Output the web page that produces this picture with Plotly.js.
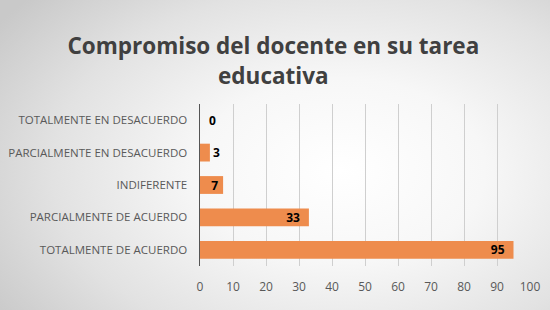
<!DOCTYPE html>
<html><head><meta charset="utf-8">
<script src="https://cdn.plot.ly/plotly-3.0.1.min.js"></script>
<style>
html,body{margin:0;padding:0;width:550px;height:310px;overflow:hidden;}
body{background:radial-gradient(ellipse 75% 85% at 62% 55%, #ffffff 0%, #f7f7f7 35%, #e2e2e2 70%, #c9c9c9 100%);}
#chart{width:550px;height:310px;}
</style></head>
<body><div id="chart"></div>
<script>
const categories = ["TOTALMENTE DE ACUERDO","PARCIALMENTE DE ACUERDO","INDIFERENTE","PARCIALMENTE EN DESACUERDO","TOTALMENTE EN DESACUERDO"];
const values = [95, 33, 7, 3, 0];
const xTicks = [0,10,20,30,40,50,60,70,80,90,100];
const titleText = "Compromiso del docente en su tarea<br>educativa";

const trace = {
  type: 'bar', orientation: 'h',
  x: values, y: categories,
  marker: {color: '#EE8C4D', line: {width: 0}},
  texttemplate: ['%{x}\u2002','%{x}\u2002','%{x}\u2009','%{x}','\u2002%{x}'],
  textposition: ['inside','inside','inside','outside','outside'],
  insidetextanchor: 'end',
  textangle: 0,
  constraintext: 'none',
  cliponaxis: false,
  textfont: {family: 'Open Sans, sans-serif', size: 12, color: '#000000', weight: 'bold'},
  width: 0.55,
  hoverinfo: 'none'
};
const layout = {
  width: 550, height: 310,
  paper_bgcolor: 'rgba(0,0,0,0)', plot_bgcolor: 'rgba(0,0,0,0)',
  margin: {l: 200, r: 20, t: 104, b: 44},
  title: {text: titleText, x: 0.497, xanchor: 'center', y: 0.825, yanchor: 'middle',
    font: {family: 'Open Sans, sans-serif', size: 22.5, color: '#404040', weight: 'bold'}},
  showlegend: false,
  xaxis: {range: [0, 100], tickvals: xTicks, ticktext: xTicks.map(String),
    showgrid: true, gridcolor: '#cfcfcf', gridwidth: 1, zeroline: false,
    showline: false, ticks: '', ticklabelstandoff: 12,
    tickfont: {family: 'Open Sans, sans-serif', size: 12, color: '#595959'}, fixedrange: true},
  yaxis: {type: 'category', categoryorder: 'array', categoryarray: categories,
    showgrid: false, zeroline: false, showline: true, linecolor: '#555555', linewidth: 1.5,
    ticks: '', ticklabelstandoff: 9,
    tickfont: {family: 'Open Sans, sans-serif', size: 11.5, color: '#595959'}, fixedrange: true}
};
Plotly.newPlot('chart', [trace], layout, {staticPlot: true, displayModeBar: false});
</script></body></html>
